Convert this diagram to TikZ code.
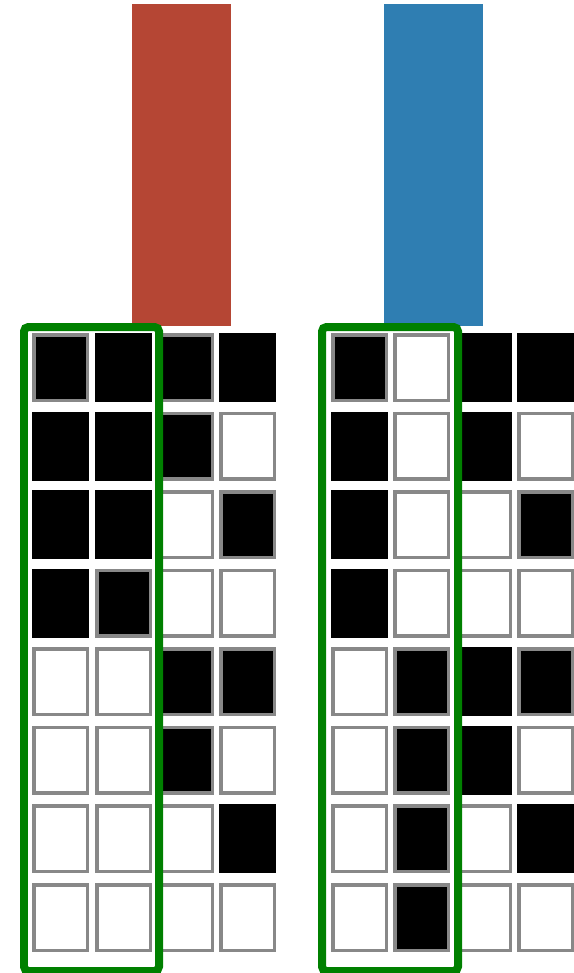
\documentclass[tikz,border=0pt]{standalone}
\definecolor{barred}{RGB}{181, 70, 52}
\definecolor{barblue}{RGB}{47, 126, 178}
\definecolor{boxgreen}{RGB}{0, 128, 0}
\definecolor{cellgray}{RGB}{136, 136, 136}
\usepackage{tikz}
\usetikzlibrary{calc}

\tikzset{
  offcell/.style={fill=white, draw=cellgray, line width=0.07cm},
  oncell/.style={fill=black},
  onedged/.style={fill=black, draw=cellgray, line width=0.07cm},
  groupbox/.style={draw=boxgreen, line width=0.16cm, rounded corners=2.5pt},
}

\begin{document}
\begin{tikzpicture}[x=0.02cm, y=-0.02cm]
    \useasboundingbox (0,0) rectangle (574,973);

    % Bars
    \fill[barred] (132,4) rectangle (231,326);
    \fill[barblue] (384,4) rectangle (483,326);

    % Cells (0 = off, 1 = on, 2 = on with edge), left grid then right grid
    \foreach \r/\a/\b/\c/\d/\e/\f/\g/\h in {
        1/2/1/2/1/2/0/1/1,
        2/1/1/2/0/1/0/1/0,
        3/1/1/0/2/1/0/0/2,
        4/1/2/0/0/1/0/0/0,
        5/0/0/2/2/0/2/1/2,
        6/0/0/2/0/0/2/1/0,
        7/0/0/0/1/0/2/0/1,
        8/0/0/0/0/0/2/0/0}
    {
        \pgfmathsetmacro{\y}{333+78.57*(\r-1)}
        \foreach \v/\cx in {\a/32, \b/95, \c/157, \d/219, \e/331, \f/393, \g/455, \h/517}
        {
            \ifcase\v
                \path[offcell] (\cx+1.75,\y+1.75) rectangle ++(53.5,65.5);
            \or
                \path[oncell] (\cx,\y) rectangle ++(57,69);
            \or
                \path[onedged] (\cx+1.75,\y+1.75) rectangle ++(53.5,65.5);
            \fi
        }
    }

    % Groups
    \draw[groupbox] (24,327) rectangle (159,971);
    \draw[groupbox] (322,327) rectangle (458,971);
\end{tikzpicture}
\end{document}
